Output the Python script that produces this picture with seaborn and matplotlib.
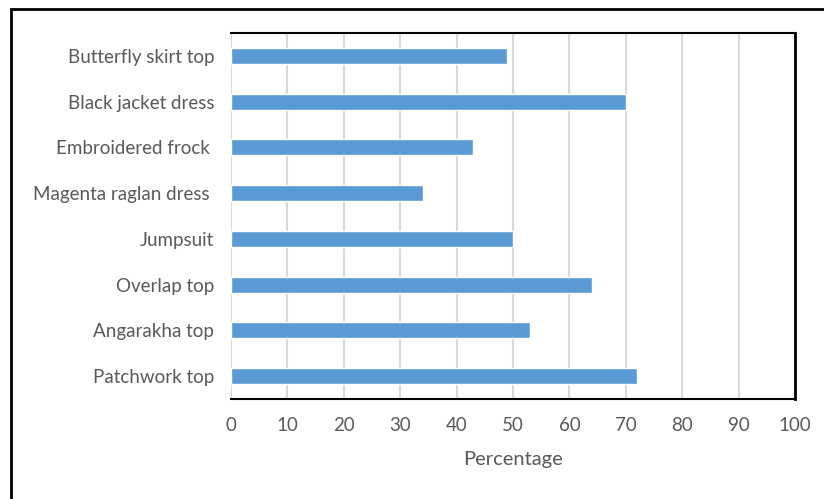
import matplotlib
matplotlib.use("Agg")
import matplotlib.pyplot as plt
import seaborn as sns
import pandas as pd
from matplotlib.patches import Rectangle

categories = [
    "Butterfly skirt top",
    "Black jacket dress",
    "Embroidered frock ",
    "Magenta raglan dress ",
    "Jumpsuit",
    "Overlap top",
    "Angarakha top",
    "Patchwork top",
]
percentages = [49, 70, 43, 34, 50, 64, 53, 72]
x_ticks = list(range(0, 101, 10))

df = pd.DataFrame({"item": categories, "pct": percentages})

sns.set_theme(style="white")
plt.rcParams["font.family"] = ["Lato", "DejaVu Sans"]

text_color = "#595959"
fig = plt.figure(figsize=(8.24, 4.99), dpi=100)
ax = fig.add_axes([0.2803, 0.2004, 0.6845, 0.7335])

sns.barplot(data=df, x="pct", y="item", order=categories, color="#5B9BD5",
            saturation=1, width=0.35, orient="h", ax=ax, zorder=3)

ax.set_xlim(0, 100)
ax.set_ylim(len(categories) - 0.5, -0.5)
ax.set_xticks(x_ticks)
ax.set_xticklabels([str(t) for t in x_ticks])
ax.xaxis.grid(True, color="#D9D9D9", linewidth=1.5, zorder=0)
ax.yaxis.grid(False)
ax.set_axisbelow(True)

ax.tick_params(axis="both", length=0, labelsize=13.5, colors=text_color)
ax.tick_params(axis="x", pad=13)
ax.tick_params(axis="y", pad=12)
ax.set_ylabel("")
ax.set_xlabel("Percentage", fontsize=14.5, color=text_color, labelpad=12)

for side in ["top", "right", "bottom"]:
    ax.spines[side].set_color("black")
    ax.spines[side].set_linewidth(1.5)
ax.spines["right"].set_linewidth(2)
ax.spines["left"].set_visible(False)

# outer frame around the whole chart
fig.patches.append(Rectangle((11 / 824, -0.1), 1.2, (499 - 9) / 499 + 0.1,
                             transform=fig.transFigure, fill=False,
                             edgecolor="black", linewidth=2, zorder=10))

fig.savefig("out.png", dpi=100)
